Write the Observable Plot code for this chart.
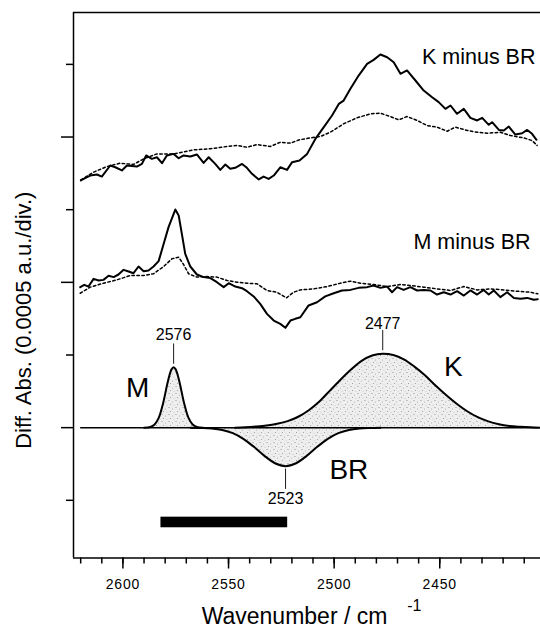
<!DOCTYPE html>
<html>
<head>
<meta charset="utf-8">
<script src="https://cdn.jsdelivr.net/npm/d3@7"></script>
<script src="https://cdn.jsdelivr.net/npm/@observablehq/plot@0.6"></script>
<style>
  html, body { margin: 0; padding: 0; background: #fff; }
  g[aria-label="x-axis tick label"] text { letter-spacing: 0.8px; }
  g[aria-label="x title"] text { letter-spacing: 1px; }
</style>
</head>
<body>
<div id="chart"></div>
<script>
// ---------- data ----------
// Wavenumber (cm-1), value relative to each trace's own baseline (divisions)
const kMinusBRSolid = [
  [2619.9,-0.299],[2617.9,-0.283],[2615.5,-0.265],[2612.3,-0.258],[2610.0,-0.272],[2606.0,-0.196],
  [2603.6,-0.208],[2600.5,-0.230],[2598.1,-0.196],[2593.4,-0.203],[2591.0,-0.185],[2589.0,-0.127],
  [2586.3,-0.150],[2583.9,-0.139],[2581.5,-0.180],[2579.2,-0.127],[2576.0,-0.116],[2573.6,-0.146],
  [2571.3,-0.127],[2568.1,-0.134],[2565.0,-0.120],[2561.8,-0.178],[2559.4,-0.139],[2556.3,-0.185],
  [2553.9,-0.226],[2551.5,-0.189],[2549.2,-0.219],[2546.8,-0.212],[2543.6,-0.185],[2541.3,-0.212],
  [2538.9,-0.253],[2535.7,-0.292],[2533.4,-0.272],[2531.0,-0.288],[2528.6,-0.265],[2525.5,-0.208],
  [2522.3,-0.226],[2519.9,-0.173],[2516.4,-0.162],[2512.8,-0.116],[2508.9,-0.013],[2504.9,0.068],
  [2501.0,0.148],[2497.8,0.228],[2495.5,0.251],[2492.3,0.332],[2488.4,0.423],[2484.4,0.504],
  [2481.3,0.531],[2478.1,0.568],[2474.9,0.549],[2471.8,0.515],[2468.6,0.435],[2465.5,0.458],
  [2461.5,0.389],[2457.6,0.320],[2453.6,0.274],[2450.5,0.240],[2447.3,0.194],[2444.9,0.217],
  [2441.8,0.160],[2438.6,0.194],[2435.5,0.132],[2432.3,0.114],[2429.9,0.132],[2426.8,0.084],
  [2425.2,0.102],[2422.0,0.049],[2419.7,0.045],[2417.3,0.072],[2414.2,0.017],[2411.0,0.026],
  [2408.6,0.049],[2406.3,0.022],[2404.2,-0.019]
];
const kMinusBRDotted = [
  [2619.9,-0.295],[2613.9,-0.242],[2607.6,-0.203],[2601.3,-0.180],[2595.0,-0.189],[2590.2,-0.150],
  [2583.9,-0.116],[2576.0,-0.116],[2566.5,-0.088],[2558.6,-0.081],[2550.7,-0.065],[2546.0,-0.058],
  [2541.3,-0.070],[2536.5,-0.052],[2530.2,-0.065],[2525.5,-0.036],[2520.7,-0.042],[2516.4,-0.019],
  [2511.3,-0.006],[2506.5,0.004],[2501.8,0.033],[2495.5,0.091],[2489.2,0.132],[2482.8,0.160],
  [2478.1,0.164],[2473.4,0.141],[2469.4,0.118],[2465.5,0.141],[2460.7,0.114],[2456.0,0.079],
  [2451.3,0.068],[2446.5,0.040],[2442.6,0.068],[2437.0,0.045],[2432.3,0.033],[2427.6,0.026],
  [2421.3,0.033],[2416.5,0.010],[2410.2,-0.006],[2406.3,-0.024],[2403.9,-0.058]
];
const mMinusBRSolid = [
  [2620.2,-0.033],[2618.3,-0.017],[2616.3,-0.029],[2613.9,0.024],[2611.5,0.013],[2609.2,0.017],
  [2606.8,0.045],[2604.4,0.036],[2602.1,0.054],[2599.7,0.086],[2597.3,0.075],[2595.0,0.063],
  [2592.6,0.109],[2590.2,0.077],[2587.9,0.082],[2585.5,0.109],[2583.1,0.146],[2580.7,0.265],
  [2578.4,0.380],[2575.2,0.501],[2573.6,0.460],[2572.1,0.334],[2570.5,0.196],[2568.1,0.109],
  [2565.0,0.054],[2561.8,0.036],[2558.6,0.029],[2555.5,0.001],[2552.3,-0.033],[2549.9,-0.006],
  [2546.8,-0.029],[2543.6,-0.040],[2541.3,-0.061],[2538.1,-0.097],[2535.0,-0.148],[2531.8,-0.217],
  [2528.6,-0.263],[2525.5,-0.286],[2523.1,-0.313],[2520.7,-0.263],[2518.4,-0.251],[2516.0,-0.240],
  [2512.1,-0.159],[2508.1,-0.137],[2504.2,-0.097],[2500.2,-0.075],[2496.3,-0.056],[2492.3,-0.052],
  [2488.4,-0.038],[2484.4,-0.033],[2481.3,-0.022],[2478.1,-0.038],[2474.9,-0.029],[2472.6,-0.068],
  [2470.2,-0.033],[2467.1,-0.052],[2463.9,-0.033],[2460.7,-0.056],[2457.6,-0.052],[2454.4,-0.056],
  [2451.3,-0.084],[2448.1,-0.068],[2444.9,-0.084],[2441.8,-0.061],[2438.6,-0.091],[2435.5,-0.056],
  [2432.3,-0.084],[2429.2,-0.052],[2426.8,-0.084],[2424.4,-0.056],[2421.3,-0.102],[2418.1,-0.068],
  [2414.9,-0.107],[2411.8,-0.113],[2408.6,-0.107],[2405.5,-0.120],[2403.6,-0.116]
];
const mMinusBRDotted = [
  [2620.2,-0.075],[2615.5,-0.033],[2609.2,-0.006],[2602.9,0.017],[2596.5,0.047],[2590.2,0.047],
  [2585.5,0.059],[2580.7,0.109],[2576.8,0.162],[2573.6,0.173],[2571.3,0.123],[2568.9,0.059],
  [2565.0,0.036],[2560.2,0.040],[2555.5,0.036],[2550.7,0.013],[2546.0,0.001],[2541.3,-0.006],
  [2536.5,-0.010],[2531.8,-0.056],[2527.1,-0.068],[2522.6,-0.107],[2519.2,-0.068],[2516.0,-0.052],
  [2509.7,-0.045],[2503.4,-0.029],[2497.1,-0.006],[2492.3,0.008],[2487.6,-0.006],[2481.3,-0.015],
  [2474.9,-0.029],[2468.6,-0.015],[2463.9,-0.022],[2457.6,-0.033],[2451.3,-0.045],[2444.9,-0.056],
  [2438.6,-0.029],[2432.3,-0.052],[2426.0,-0.045],[2419.7,-0.052],[2413.4,-0.061],[2407.0,-0.068],
  [2403.6,-0.079]
];
// fitted component bands (bottom panel, baseline 0)
const bandM = [
  [2590,0],[2587,0.005],[2585,0.022],[2583,0.069],[2581,0.167],[2579,0.30],[2578,0.359],[2577,0.401],
  [2576,0.416],[2575,0.401],[2574,0.359],[2573,0.30],[2571,0.167],[2569,0.069],[2567,0.022],[2565,0.005],[2562,0]
];
const bandBR = [
  [2568,0],[2563,-0.002],[2558,-0.006],[2553,-0.016],[2548,-0.038],[2543,-0.077],[2538,-0.132],[2533,-0.194],
  [2528,-0.245],[2523,-0.265],[2518,-0.245],[2513,-0.194],[2508,-0.132],[2503,-0.077],[2498,-0.038],
  [2493,-0.016],[2488,-0.006],[2483,-0.002],[2478,0]
];
const bandK = [
  [2547,0],[2542,0.003],[2537,0.008],[2532,0.015],[2527,0.027],[2522,0.045],[2517,0.075],[2512,0.12],
  [2507,0.18],[2502,0.255],[2497,0.33],[2492,0.40],[2487,0.46],[2482,0.497],[2477,0.509],[2472,0.50],
  [2467,0.47],[2462,0.42],[2457,0.36],[2452,0.29],[2447,0.225],[2442,0.165],[2437,0.113],[2432,0.072],
  [2427,0.043],[2422,0.024],[2417,0.012],[2412,0.006],[2407,0.002],[2402,0]
];
const peakLabels = ["2576", "2477", "2523"];
const bandNames = ["M", "K", "BR"];
const traceNames = ["K minus BR", "M minus BR"];
const kOffset = 2;
const mOffset = 1;
const barWn = [2582, 2522];
const barLevel = [-0.616, -0.689];
const baselineWn = [2620, 2403];
const xMajorTicks = [2600, 2550, 2500, 2450];
const xMinorTicks = [2620,2610,2600,2590,2580,2570,2560,2550,2540,2530,2520,2510,2500,2490,2480,2470,2460,2450,2440,2430,2420,2410];
const yMajorTicks = [0, 1, 2];
const yMinorTicks = [-0.5, 0.5, 1.5, 2.5];
const xTitle = "Wavenumber / cm";
const xTitleSup = "-1";
const yTitle = "Diff. Abs. (0.0005 a.u./div.)";

// ---------- chart ----------
const xDomain = [2623.4, 2402.3];
const yDomain = [-0.897, 2.857];
const X = d => d[0];
const Y = d => d[1];
const extreme = pts => pts.reduce((a, b) => Math.abs(b[1]) > Math.abs(a[1]) ? b : a);
const bands = [bandM, bandK, bandBR];
const bandPeaks = bands.map(extreme);
const gap = 0.02, lead = 0.14;

// stipple pattern definition (a render-function mark)
const stippleDefs = () => {
  const ns = "http://www.w3.org/2000/svg";
  const defs = document.createElementNS(ns, "defs");
  const pat = document.createElementNS(ns, "pattern");
  pat.setAttribute("id", "stipple");
  pat.setAttribute("patternUnits", "userSpaceOnUse");
  pat.setAttribute("width", "7");
  pat.setAttribute("height", "7");
  const bg = document.createElementNS(ns, "rect");
  bg.setAttribute("width", "7"); bg.setAttribute("height", "7"); bg.setAttribute("fill", "#eeeeee");
  pat.appendChild(bg);
  for (const [cx, cy, r, c] of [[1, 1.5, 0.6, "#8c8c8c"], [4.5, 3, 0.5, "#a0a0a0"], [2.5, 5.5, 0.55, "#969696"], [6, 6.2, 0.45, "#aaaaaa"]]) {
    const dot = document.createElementNS(ns, "circle");
    dot.setAttribute("cx", cx); dot.setAttribute("cy", cy); dot.setAttribute("r", r); dot.setAttribute("fill", c);
    pat.appendChild(dot);
  }
  defs.appendChild(pat);
  return defs;
};

const marks = [stippleDefs];
for (const b of bands) marks.push(Plot.areaY(b, {x: X, y: Y, fill: "url(#stipple)", curve: "catmull-rom"}));
marks.push(Plot.ruleY([0], {x1: baselineWn[0], x2: baselineWn[1], stroke: "#000", strokeWidth: 1.5}));
for (const b of bands) marks.push(Plot.line(b, {x: X, y: Y, stroke: "#000", strokeWidth: 2, curve: "catmull-rom"}));

// leaders and peak labels
bandPeaks.forEach((p, i) => {
  const s = Math.sign(p[1]);
  marks.push(Plot.ruleX([p], {x: X, y1: d => d[1] + s * gap, y2: d => d[1] + s * (gap + lead), stroke: "#000", strokeWidth: 0.9}));
  marks.push(Plot.text([p], {x: X, y: Y, text: () => peakLabels[i], fontSize: 16,
    lineAnchor: s > 0 ? "bottom" : "top", dy: s > 0 ? (i === 0 ? -27.5 : -24.7) : 26}));
});

// band names
const bandNameOffsets = [[-36, -31], [70.5, -52], [63.3, 51]];
bandPeaks.forEach((p, i) => {
  marks.push(Plot.text([p], {x: X, y: 0, text: () => bandNames[i], fontSize: 28, lineAnchor: "bottom",
    dx: bandNameOffsets[i][0], dy: bandNameOffsets[i][1]}));
});

// spectra
marks.push(Plot.line(kMinusBRDotted, {x: X, y: d => d[1] + kOffset, stroke: "#000", strokeWidth: 1.5, strokeDasharray: "2.5,2.5"}));
marks.push(Plot.line(kMinusBRSolid, {x: X, y: d => d[1] + kOffset, stroke: "#000", strokeWidth: 2}));
marks.push(Plot.line(mMinusBRDotted, {x: X, y: d => d[1] + mOffset, stroke: "#000", strokeWidth: 1.5, strokeDasharray: "2.5,2.5"}));
marks.push(Plot.line(mMinusBRSolid, {x: X, y: d => d[1] + mOffset, stroke: "#000", strokeWidth: 2}));

// trace labels
marks.push(Plot.text([traceNames[0]], {x: xDomain[1], y: kOffset, text: d => d, fontSize: 21.5, textAnchor: "end", lineAnchor: "bottom", dx: -5, dy: -73.2}));
marks.push(Plot.text([traceNames[1]], {x: xDomain[1], y: mOffset, text: d => d, fontSize: 21.5, textAnchor: "end", lineAnchor: "bottom", dx: -10, dy: -33.5}));

// black bar
marks.push(Plot.rect([0], {x1: barWn[0], x2: barWn[1], y1: barLevel[0], y2: barLevel[1], fill: "#000"}));

// frame lines
marks.push(Plot.ruleX([xDomain[0]], {stroke: "#000", strokeWidth: 1.5}));
marks.push(Plot.ruleY([yDomain[0]], {stroke: "#000", strokeWidth: 1.5}));
marks.push(Plot.ruleY([yDomain[1]], {stroke: "#000", strokeWidth: 1.5}));

// axes
marks.push(Plot.axisX({ticks: xMinorTicks, tickSize: 6, fill: "none", strokeWidth: 1.5, label: null}));
marks.push(Plot.axisX({ticks: xMajorTicks, tickSize: 11, tickPadding: 10, tickFormat: "d", fontSize: 14, strokeWidth: 1.5, label: null}));
marks.push(Plot.axisY({ticks: yMinorTicks, tickSize: 7, fill: "none", strokeWidth: 1.5, label: null}));
marks.push(Plot.axisY({ticks: yMajorTicks, tickSize: 12, fill: "none", strokeWidth: 1.5, label: null}));

// axis titles
marks.push(Plot.text([xTitle], {frameAnchor: "bottom", text: d => d, fontSize: 23, textAnchor: "middle", lineAnchor: "bottom", dx: -12.5, dy: 65.5, ariaLabel: "x title"}));
marks.push(Plot.text([xTitleSup], {frameAnchor: "bottom", text: d => d, fontSize: 16, textAnchor: "start", lineAnchor: "bottom", dx: 100.2, dy: 52.5}));
marks.push(Plot.text([yTitle], {frameAnchor: "left", text: d => d, fontSize: 22, rotate: -90, textAnchor: "middle", lineAnchor: "bottom", dx: -43, dy: 35}));

const chart = Plot.plot({
  width: 540,
  height: 627,
  marginLeft: 73,
  marginRight: 0,
  marginTop: 12,
  marginBottom: 69.5,
  style: {fontFamily: "'Liberation Sans', Arial, Helvetica, sans-serif", background: "#fff", color: "#000", overflow: "visible"},
  x: {domain: xDomain},
  y: {domain: yDomain},
  marks
});
document.getElementById("chart").appendChild(chart);
</script>
</body>
</html>
